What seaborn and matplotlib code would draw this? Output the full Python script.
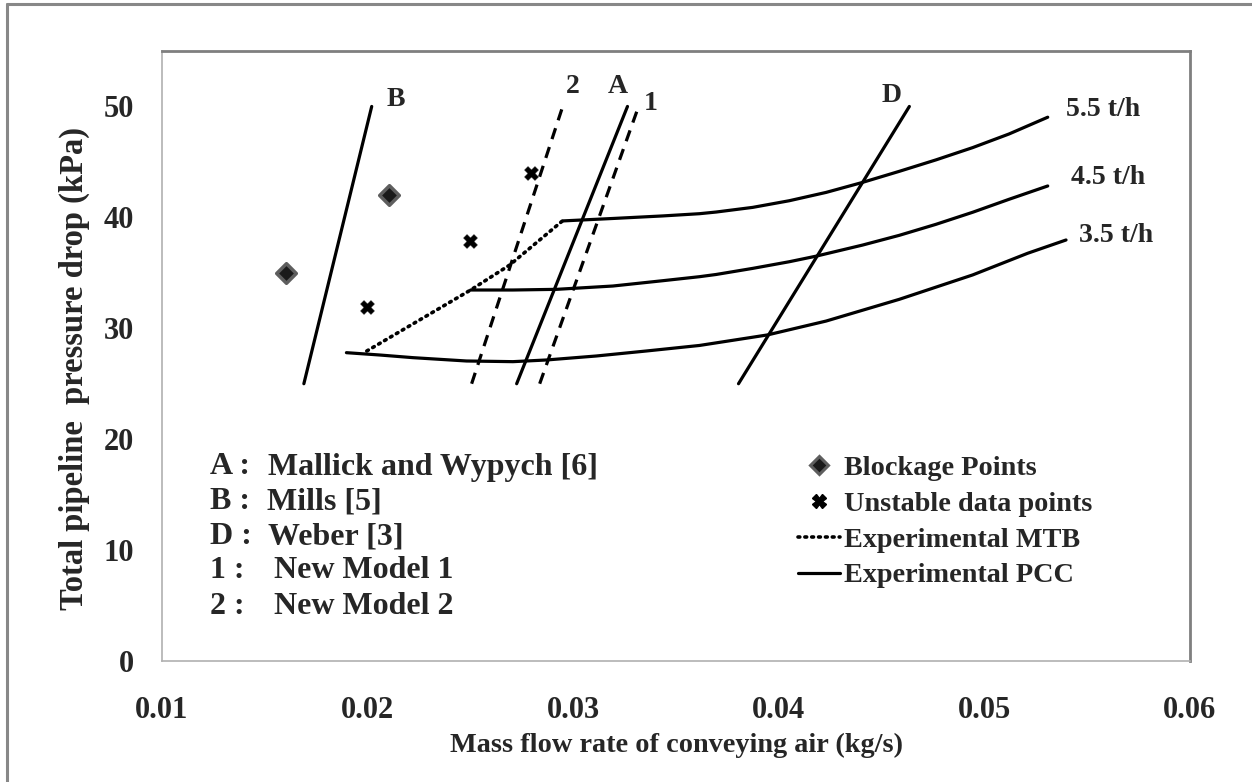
import matplotlib
matplotlib.use("Agg")
import matplotlib.pyplot as plt
from matplotlib.lines import Line2D
import seaborn as sns
import pandas as pd

# ---------------- data ----------------
# straight model lines
line_B_x = [0.0169, 0.0202]
line_B_y = [25, 50]
line_2_x = [0.02506, 0.02949]
line_2_y = [25, 50]
line_A_x = [0.02725, 0.03264]
line_A_y = [25, 50]
line_1_x = [0.02837, 0.03318]
line_1_y = [25, 50]
line_D_x = [0.03804, 0.04635]
line_D_y = [25, 50]

# experimental PCC curves
pcc55_x = [0.0295, 0.03193, 0.03436, 0.03614, 0.03695, 0.03873, 0.04051, 0.0423,
           0.04403, 0.04586, 0.04764, 0.04943, 0.0512, 0.05308]
pcc55_y = [39.68, 39.9, 40.13, 40.33, 40.48, 40.9, 41.5, 42.25,
           43.13, 44.15, 45.18, 46.29, 47.52, 49.03]
pcc45_x = [0.02501, 0.02707, 0.02918, 0.03193, 0.03436, 0.03614, 0.03695, 0.03873,
           0.04051, 0.04181, 0.04407, 0.04586, 0.04764, 0.04943, 0.0512, 0.05308]
pcc45_y = [33.45, 33.45, 33.51, 33.81, 34.29, 34.65, 34.85, 35.4,
           36.0, 36.5, 37.5, 38.38, 39.37, 40.46, 41.63, 42.83]
pcc35_x = [0.01897, 0.02059, 0.02221, 0.02481, 0.02707, 0.02869, 0.03112, 0.03355,
           0.03614, 0.03945, 0.0423, 0.04586, 0.04943, 0.0521, 0.05397]
pcc35_y = [27.8, 27.59, 27.35, 27.05, 26.99, 27.14, 27.5, 27.95,
           28.45, 29.4, 30.65, 32.61, 34.81, 36.76, 37.96]

# experimental MTB (dotted)
mtb_x = [0.01996, 0.02501, 0.02691, 0.02949]
mtb_y = [27.95, 33.45, 35.7, 39.7]

# points
blockage_x = [0.01603, 0.02103]
blockage_y = [35.0, 42.0]
unstable_x = [0.01996, 0.02497, 0.02793]
unstable_y = [31.9, 37.9, 44.0]

x_ticks = [0.01, 0.02, 0.03, 0.04, 0.05, 0.06]
y_ticks = [0, 10, 20, 30, 40, 50]

line_labels = ["B", "2", "A", "1", "D"]
line_label_x = [0.02137, 0.02997, 0.03216, 0.03376, 0.04547]
line_label_y = [50.6, 51.8, 51.8, 50.3, 51.0]

rate_labels = ["5.5 t/h", "4.5 t/h", "3.5 t/h"]
rate_label_x = [0.05398, 0.05422, 0.05461]
rate_label_y = [49.7, 43.6, 38.4]

notes_key = ["A :", "B :", "D :", "1 :", "2 :"]
notes_text = ["Mallick and Wypych [6]", "Mills [5]", "Weber [3]", "New Model 1", "New Model 2"]

legend_labels = ["Blockage Points", "Unstable data points", "Experimental MTB", "Experimental PCC"]

# ---------------- style ----------------
sns.set_theme(style="white")
plt.rcParams["font.family"] = ["Liberation Serif", "DejaVu Serif"]
plt.rcParams["font.weight"] = "bold"
plt.rcParams["axes.labelweight"] = "bold"

LW = 2.3

fig = plt.figure(figsize=(12.52, 7.82), dpi=100)
ax = fig.add_axes([162 / 1252, 1 - 661 / 782, (1190 - 162) / 1252, (661 - 51) / 782])


def draw(xs, ys):
    df = pd.DataFrame({"x": xs, "y": ys})
    sns.lineplot(data=df, x="x", y="y", sort=False, estimator=None, ax=ax,
                 color="black", linewidth=LW, legend=False)
    return ax.lines[-1]


draw(line_B_x, line_B_y)
draw(line_A_x, line_A_y)
draw(line_D_x, line_D_y)
draw(line_2_x, line_2_y).set_dashes((3.6, 2.6))
draw(line_1_x, line_1_y).set_dashes((3.6, 2.6))

for xs, ys in [(pcc55_x, pcc55_y), (pcc45_x, pcc45_y), (pcc35_x, pcc35_y)]:
    l = draw(xs, ys)
    l.set_solid_joinstyle("round")
mtb = draw(mtb_x, mtb_y)
mtb.set_linewidth(2.6)
mtb.set_dashes((0.5, 1.4))
mtb.set_dash_capstyle("round")

sns.scatterplot(x=blockage_x, y=blockage_y, ax=ax, marker="D", s=100,
                color="#1a1a1a", edgecolor="#5e5e5e", linewidth=2.5, zorder=5)
sns.scatterplot(x=unstable_x, y=unstable_y, ax=ax, marker="X", s=100,
                color="black", edgecolor="black", linewidth=0.3, zorder=5)

ax.set_xlim(0.01, 0.06)
ax.set_ylim(0, 55)
ax.set_xticks(x_ticks)
ax.set_xticklabels([f"{v:.2f}" for v in x_ticks])
ax.set_yticks(y_ticks)
ax.set_yticklabels([str(v) for v in y_ticks])
ax.tick_params(axis="both", which="major", direction="out", length=7,
               width=1, color="#b0b0b0", labelsize=22)
ax.tick_params(axis="x", pad=18)
ax.tick_params(axis="y", pad=13)
for lbl in ax.get_xticklabels() + ax.get_yticklabels():
    lbl.set_fontweight("bold")

for side in ["left", "bottom"]:
    ax.spines[side].set_color("#b0b0b0")
    ax.spines[side].set_linewidth(1.2)
for side in ["top", "right"]:
    ax.spines[side].set_color("#7f7f7f")
    ax.spines[side].set_linewidth(2)
    ax.spines[side].set_visible(True)

ax.set_xlabel("Mass flow rate of conveying air (kg/s)", fontsize=20.3, fontweight="bold")
ax.set_ylabel("Total pipeline  pressure drop (kPa)", fontsize=23.5, fontweight="bold")
ax.xaxis.set_label_coords(0.5, -0.138)
ax.xaxis.label.set_va("center")
ax.yaxis.set_label_coords(-0.085, 0.48)
ax.yaxis.label.set_va("center")

for t, x, y in zip(line_labels, line_label_x, line_label_y):
    ax.text(x, y, t, fontsize=20, fontweight="bold", ha="center", va="center")
for t, x, y in zip(rate_labels, rate_label_x, rate_label_y):
    ax.text(x, y, t, fontsize=20, fontweight="bold", ha="left", va="center")

# notes block (figure pixel positions)
note_y = [467, 502, 537, 571, 606]
note_x2 = [268, 267, 268, 274, 274]
for k, t, yy, x2 in zip(notes_key, notes_text, note_y, note_x2):
    fig.text(210 / 1252, 1 - yy / 782, k, fontsize=23, fontweight="bold", ha="left", va="center")
    fig.text(x2 / 1252, 1 - yy / 782, t, fontsize=23, fontweight="bold", ha="left", va="center")

handles = [
    Line2D([], [], linestyle="none", marker="D", markersize=9, markerfacecolor="#1a1a1a",
           markeredgecolor="#5e5e5e", markeredgewidth=2.2),
    Line2D([], [], linestyle="none", marker="X", markersize=10, color="black"),
    Line2D([], [], color="black", linewidth=2.6, dashes=(0.5, 1.4), dash_capstyle="round"),
    Line2D([], [], color="black", linewidth=LW),
]
leg = ax.legend(handles, legend_labels, loc="upper left", frameon=False,
                bbox_to_anchor=(798 / 1252, 1 - 455 / 782), bbox_transform=fig.transFigure,
                borderpad=0, borderaxespad=0, handlelength=1.5, handletextpad=0.12,
                labelspacing=0.36, prop={"family": "Liberation Serif", "weight": "bold", "size": 20.3})

# outer frame
fig.add_artist(Line2D([7 / 1252, 1.01], [1 - 4 / 782, 1 - 4 / 782], transform=fig.transFigure,
                      color="#888888", linewidth=2.2))
fig.add_artist(Line2D([7 / 1252, 7 / 1252], [1 - 4 / 782, -0.01], transform=fig.transFigure,
                      color="#888888", linewidth=2.2))

fig.savefig("out.png", dpi=100, facecolor="white")
